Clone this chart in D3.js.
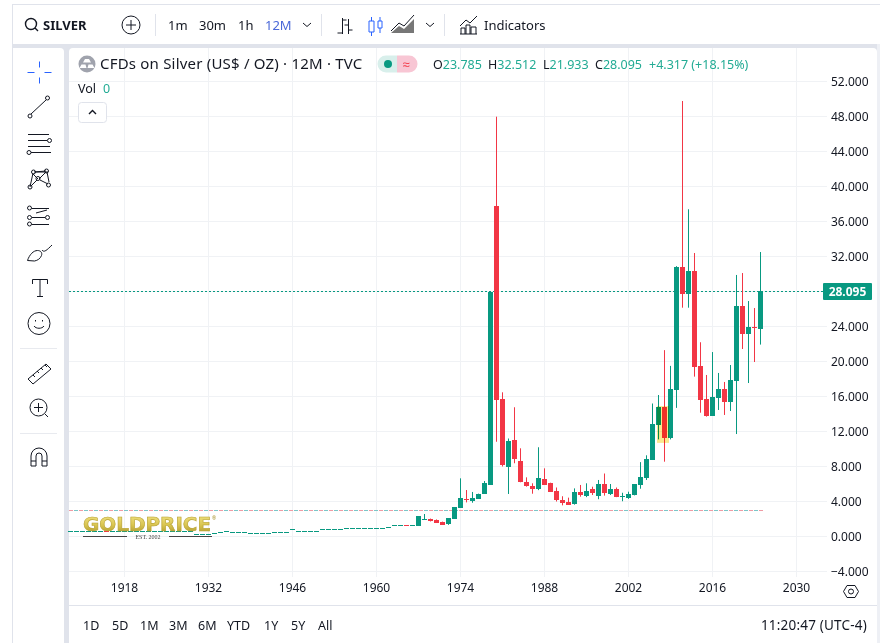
<!DOCTYPE html>
<html>
<head>
<meta charset="utf-8">
<style>
  html, body { margin: 0; padding: 0; background: #fff; overflow: hidden; }
  svg { display: block; }
  text { font-family: "Noto Sans", sans-serif; fill: #131722; }
</style>
<script src="https://cdn.jsdelivr.net/npm/d3@7"></script>
</head>
<body>
<svg id="chart" width="880" height="643"></svg>
<script>
var firstYear = 1909;
var earlyOpens = [.66,.66,.66,.66,.66,.66,.67,.66,.66,.66,.66,.66,.66,.66,.66,.66,.66,.66,.66,.66,.66,.33,.33,.33,.42,.48,.59,.48,.48,.48,.36,.36,.36,.40,.48,.48,.48,.82,.66,.66,.66,.66,.90,.90,.90,.90,.93,.93,.93,.93,.93,.93,.93,1.05,1.28,1.28,1.30,1.28];
var earlyCloses = [.66,.66,.66,.66,.66,.66,.64,.66,.66,.66,.66,.66,.66,.66,.66,.66,.66,.66,.66,.66,.66,.33,.33,.33,.42,.48,.59,.48,.48,.48,.36,.36,.36,.40,.48,.48,.48,.82,.66,.66,.66,.66,.90,.90,.90,.90,.93,.93,.93,.93,.93,.93,.93,1.05,1.28,1.28,1.27,1.28];
var candleOpens = [1.23,2.0,1.97,1.92,1.66,1.35,2.04,3.26,4.29,4.09,4.32,4.86,5.92,37.77,15.68,7.94,11.0,8.63,6.19,5.74,5.35,6.57,6.11,5.2,4.17,3.94,3.64,5.08,4.63,5.43,4.66,6.0,4.86,5.43,4.55,4.44,4.73,5.89,6.69,8.74,12.74,14.8,11.3,16.74,30.8,27.75,30.34,19.5,15.7,13.77,15.83,16.86,15.37,17.77,26.34,23.14,23.94,23.785];
var candleHighs = [2.34,2.57,2.05,1.95,1.70,2.11,3.37,6.65,5.31,5.09,4.9,6.34,27.98,47.98,16.48,11.2,14.77,10.08,6.76,6.08,10.2,7.79,6.15,5.6,4.6,4.44,5.5,5.89,6.08,5.69,6.46,7.2,6.0,5.6,5.0,5.12,6.0,8.5,9.28,15.2,16.17,21.3,19.5,30.9,49.77,37.4,32.4,22.2,18.46,21.08,18.69,17.66,19.6,29.89,30.11,26.91,26.11,32.512];
var candleLows = [1.23,1.97,1.72,1.60,1.33,1.33,2.04,3.26,3.9,3.86,4.3,4.86,5.92,10.83,8.0,4.86,8.37,6.2,5.7,4.89,5.3,5.9,5.1,4.0,3.56,3.6,3.64,4.55,4.5,4.74,4.26,4.67,4.74,4.5,4.03,4.3,4.7,5.46,6.46,8.74,11.1,8.55,11.1,14.7,26.15,26.15,18.27,14.15,13.7,13.77,14.46,13.89,14.34,11.71,21.43,17.54,19.94,21.933];
var candleCloses = [2.34,2.05,1.74,1.63,1.35,2.08,3.37,4.4,4.17,4.44,4.86,6.08,27.98,15.64,8.17,10.91,8.86,6.26,5.77,5.35,6.65,5.92,5.12,4.17,3.8,3.64,5.05,4.7,5.2,4.93,6.0,4.93,5.43,4.55,4.6,4.86,6.0,6.76,8.86,12.86,14.8,11.3,16.85,30.8,27.75,30.34,19.4,15.6,13.77,15.94,16.86,15.37,17.89,26.34,23.14,23.94,23.785,28.095];

var opens = earlyOpens.concat(candleOpens);
var closes = earlyCloses.concat(candleCloses);
var highs = earlyOpens.concat(candleHighs);
var lows = earlyOpens.concat(candleLows);

var priceTicks = [52,48,44,40,36,32,24,20,16,12,8,4,0,-4];
var gridPrices = [52,48,44,40,36,32,28,24,20,16,12,8,4,0,-4];
var yearTicks = [1918,1932,1946,1960,1974,1988,2002,2016,2030];
var rangeLabels = ["1D","5D","1M","3M","6M","YTD","1Y","5Y","All"];
var rangeX = [83,112,140,169,198,227,264,291,318];
var intervals = ["1m","30m","1h","12M"];
var intervalX = [168,199,238,265];
var lastPrice = 28.095;
var avgPrice = 2.97;
var highlightYears = [2007,2008];
var highlightPrices = [14.9,10.7];

var upColor = "#089981", downColor = "#f23645", gray = "#e0e3eb", ink = "#131722", teal = "#22ab94", gridColor = "#f0f2f5";

var svg = d3.select("#chart");
var x = d3.scaleLinear().domain([1918, 2030]).range([124, 796]);
var y = d3.scaleLinear().domain([-4, 52]).range([571.5, 81.5]);

// page frame
svg.append("rect").attr("x", 12).attr("y", 4).attr("width", 868).attr("height", 639).attr("fill", gray);
svg.append("rect").attr("x", 13).attr("y", 5).attr("width", 867).attr("height", 39).attr("fill", "#fff");
svg.append("path").attr("fill", "#fff").attr("d", "M13,48H60a4,4 0 0 1 4,4V643H13Z");
svg.append("path").attr("fill", "#fff").attr("d", "M73,48H873a4,4 0 0 1 4,4V643H69V52a4,4 0 0 1 4,-4Z");
svg.append("rect").attr("x", 877).attr("y", 44).attr("width", 3).attr("height", 599).attr("fill", "#eef0f5");
svg.append("line").attr("x1", 69).attr("x2", 877).attr("y1", 605.5).attr("y2", 605.5).attr("stroke", gray);

// grid
svg.append("g").selectAll("line").data(gridPrices).enter().append("line")
    .attr("x1", 69).attr("x2", 827)
    .attr("y1", function(d) { return y(d); })
    .attr("y2", function(d) { return y(d); })
    .attr("stroke", gridColor);
svg.append("g").selectAll("line").data(yearTicks).enter().append("line")
    .attr("x1", function(d) { return x(d) + .5; })
    .attr("x2", function(d) { return x(d) + .5; })
    .attr("y1", 48).attr("y2", 577)
    .attr("stroke", gridColor);

// average line, pink and teal dashes taking turns
svg.append("line").attr("x1", 69).attr("x2", 763)
    .attr("y1", y(avgPrice)).attr("y2", y(avgPrice))
    .attr("stroke", "#ef9aa3").attr("stroke-dasharray", "4,6");
svg.append("line").attr("x1", 74).attr("x2", 763)
    .attr("y1", y(avgPrice)).attr("y2", y(avgPrice))
    .attr("stroke", "#7cc6c8").attr("stroke-dasharray", "4,6");

// last price line
svg.append("line").attr("x1", 69).attr("x2", 823)
    .attr("y1", Math.round(y(lastPrice)) + .5).attr("y2", Math.round(y(lastPrice)) + .5)
    .attr("stroke", upColor).attr("stroke-dasharray", "2,2");

// candles
var candles = opens.map(function(d, i) {
  return {year: firstYear + i, o: d, h: highs[i], l: lows[i], c: closes[i]};
});
function candleColor(d) { return d.c >= d.o ? upColor : downColor; }
var candle = svg.append("g").selectAll("g").data(candles).enter().append("g");
candle.append("line")
    .attr("x1", function(d) { return Math.round(x(d.year)) + .5; })
    .attr("x2", function(d) { return Math.round(x(d.year)) + .5; })
    .attr("y1", function(d) { return y(d.h); })
    .attr("y2", function(d) { return y(d.l); })
    .attr("stroke", candleColor);
candle.append("rect")
    .attr("x", function(d) { return Math.round(x(d.year)) - 2; })
    .attr("width", 5)
    .attr("y", function(d) { return Math.round(y(Math.max(d.o, d.c))); })
    .attr("height", function(d) { return Math.max(1, Math.round(Math.abs(y(d.o) - y(d.c)))); })
    .attr("fill", candleColor);

// yellow marker over the 2007/2008 candles
svg.append("rect")
    .attr("x", x(highlightYears[0]) - 1)
    .attr("width", x(highlightYears[1]) - x(highlightYears[0]) + 6)
    .attr("y", y(highlightPrices[0]))
    .attr("height", y(highlightPrices[1]) - y(highlightPrices[0]))
    .attr("fill", "#fbe88f")
    .style("mix-blend-mode", "multiply");

// axes
var yAxis = d3.axisRight(y).tickValues(priceTicks).tickSize(0).tickPadding(0)
    .tickFormat(function(d) { return d3.format(".3f")(d).replace("-", "\u2212"); });
var yAxisG = svg.append("g").attr("transform", "translate(831,0)").call(yAxis);
yAxisG.select(".domain").remove();
yAxisG.selectAll("text").style("font-size", "12px").style("font-family", '"Noto Sans", sans-serif').attr("fill", ink);

var xAxis = d3.axisBottom(x).tickValues(yearTicks).tickSize(0).tickPadding(0).tickFormat(d3.format("d"));
var xAxisG = svg.append("g").attr("transform", "translate(0,583)").call(xAxis);
xAxisG.select(".domain").remove();
xAxisG.selectAll("text").style("font-size", "12px").style("font-family", '"Noto Sans", sans-serif').attr("fill", ink);

// last price tag
svg.append("rect").attr("x", 823).attr("y", 283).attr("width", 49).attr("height", 17).attr("rx", 1).attr("fill", upColor);
svg.append("text").attr("x", 847.5).attr("y", 296).attr("text-anchor", "middle")
    .style("fill", "#fff").style("font-size", "12px").style("font-weight", 700)
    .text(d3.format(".3f")(lastPrice));

// legend
svg.append("circle").attr("cx", 87).attr("cy", 64).attr("r", 8.5).attr("fill", "#a0a3ad");
svg.append("path").attr("d", "M83,62.5l2,-3.5h4l2,3.5ZM79.5,68l2,-3.5h4l1,3.5ZM87.5,68l1,-3.5h4l2,3.5Z").attr("fill", "#fff");
svg.append("text").attr("x", 100).attr("y", 69).style("font-size", "15px").style("letter-spacing", ".2px")
    .text("CFDs on Silver (US$ / OZ) \u00b7 12M \u00b7 TVC");
svg.append("path").attr("d", "M386,55.5h11v17h-11a8.5,8.5 0 0 1 0,-17Z").attr("fill", "#d8efeb");
svg.append("path").attr("d", "M397,55.5h12a8.5,8.5 0 0 1 0,17h-12Z").attr("fill", "#f8c6d4");
svg.append("circle").attr("cx", 388).attr("cy", 64).attr("r", 4).attr("fill", upColor);
svg.append("text").attr("x", 406).attr("y", 68.5).attr("text-anchor", "middle").style("fill", downColor).style("font-size", "13px").text("\u2248");

var ohlcLabels = ["O","H","L","C"];
var ohlcValues = [opens[opens.length-1], highs[highs.length-1], lows[lows.length-1], closes[closes.length-1]];
var ohlcX = [433,488,543,595];
svg.append("g").selectAll("text").data(ohlcLabels).enter().append("text")
    .attr("x", function(d, i) { return ohlcX[i]; })
    .attr("y", 69)
    .style("font-size", "12.5px")
    .text(function(d) { return d; })
  .append("tspan")
    .style("fill", teal)
    .text(function(d, i) { return d3.format(".3f")(ohlcValues[i]); });
svg.append("text").attr("x", 649).attr("y", 69).style("font-size", "12.5px").style("fill", teal).text("+4.317 (+18.15%)");

svg.append("text").attr("x", 78).attr("y", 93).style("font-size", "12.5px").text("Vol");
svg.append("text").attr("x", 103).attr("y", 93).style("font-size", "12.5px").style("fill", teal).text("0");
svg.append("rect").attr("x", 78.5).attr("y", 102.5).attr("width", 28).attr("height", 20).attr("rx", 3).attr("fill", "#fff").attr("stroke", gray);
svg.append("path").attr("d", "M89,114l3.5,-3.5l3.5,3.5").attr("fill", "none").attr("stroke", ink).attr("stroke-width", 1.4);

// top toolbar
svg.append("text").attr("x", 43).attr("y", 30).style("font-size", "13px").style("font-weight", 700).text("SILVER");
svg.append("g").selectAll("text").data(intervals).enter().append("text")
    .attr("x", function(d, i) { return intervalX[i]; })
    .attr("y", 30)
    .style("font-size", "13px")
    .style("fill", function(d) { return d === "12M" ? "#4a68d8" : ink; })
    .text(function(d) { return d; });
svg.append("text").attr("x", 484).attr("y", 30).style("font-size", "13px").text("Indicators");

var icon = svg.append("g").attr("fill", "none").attr("stroke", ink).attr("stroke-width", 1);
function draw(d) { return icon.append("path").attr("d", d); }
draw("M36.500,24a5.500,5.500 0 1 1 -11,0a5.500,5.500 0 1 1 11,0ZM35,28l3,3").attr("stroke-width", 1.4);
draw("M140,25a9,9 0 1 1 -18,0a9,9 0 1 1 18,0ZM131,20v10M126,25h10");
draw("M303,23l4,3.5l4,-3.5M426,23l4,3.5l4,-3.5");
svg.append("g").attr("stroke", gray).selectAll("line").data([155,321,444]).enter().append("line")
    .attr("x1", function(d) { return d + .5; }).attr("x2", function(d) { return d + .5; })
    .attr("y1", 14).attr("y2", 36);

// chart type icons
draw("M342.500,18v16M342.500,20h4M342.500,33h-5M348.500,19v15M348.500,25h-4M348.500,30h4");
draw("M369,21h5v11h-5ZM371.500,17v4M371.500,32v4M378,21h4v7h-4ZM380,17v4M380,28v5").attr("stroke", "#2962ff");
svg.append("path").attr("d", "M391,33l8,-7l5,3l10,-10v14H391Z").attr("fill", "#777");
draw("M391,31l8,-8l5,3l10,-11");
draw("M460,26l6,-6l4,3l7,-7M461,34v-6h4v6M466,34v-9h4v9M471,34v-7h5v7M460,34h17");

// left toolbar
var cross = icon.append("g").attr("stroke", "#2962ff").attr("transform", "translate(39.5,72.5)");
cross.append("path").attr("d", "M-12,0h7M5,0h7M0,-11v6M0,5v6");
draw("M31,114l15,-14M32,116a2,2 0 1 1 -4,0a2,2 0 1 1 4,0ZM49.500,98a2,2 0 1 1 -4,0a2,2 0 1 1 4,0Z");
draw("M28,134.500h21M28,140.500h19M28,146.500h22M31,152.500h20M51.500,140.500a2,2 0 1 1 -4,0a2,2 0 1 1 4,0ZM31,152.500a2,2 0 1 1 -4,0a2,2 0 1 1 4,0Z");
draw("M30,187l3,-14M35,172l13,0M34,172l12,-1M33,174l5,5M39,179l7,-7M40,180l8,4M31,186l6,-6M47,172l2,10M35.500,172a2,2 0 1 1 -4,0a2,2 0 1 1 4,0ZM48.500,171a2,2 0 1 1 -4,0a2,2 0 1 1 4,0ZM40,178.500a2,2 0 1 1 -4,0a2,2 0 1 1 4,0ZM32,187a2,2 0 1 1 -4,0a2,2 0 1 1 4,0ZM50.500,185a2,2 0 1 1 -4,0a2,2 0 1 1 4,0Z");
draw("M32,208.500h17M32,224.500h17M32,217.500h13M36,213l11,-3M31.500,208a2,2 0 1 1 -4,0a2,2 0 1 1 4,0ZM31.500,217.500a2,2 0 1 1 -4,0a2,2 0 1 1 4,0ZM49.500,217.500a2,2 0 1 1 -4,0a2,2 0 1 1 4,0ZM31.500,224a2,2 0 1 1 -4,0a2,2 0 1 1 4,0Z");
draw("M27.500,260.500c2,-6 6,-10 10,-10c3,0 5,2 4,5c-1,3 -4,5 -7,5.500ZM42,250c2,3 5,0 10,-5");
draw("M32.500,284v-4.500h15v4.500M40,279.500v17M37,296.500h6");
draw("M50,323.500a11,11 0 1 1 -22,0a11,11 0 1 1 22,0ZM34,326c2,3 8,3 10,0M35.500,320v1.500M42.500,320v1.500");
draw("M28,379l18,-15l5,5l-18,15ZM33,375l2,2M37,371l2,2M41,368l2,2M45,365l2,2");
draw("M47,407.500a8.500,8.500 0 1 1 -17,0a8.500,8.500 0 1 1 17,0ZM38.500,403v9M34,407.500h9M45,414l3,3");
draw("M31,466v-10a8,8 0 0 1 16,0v10h-5v-10a3,3 0 0 0 -6,0v10ZM31,461h5M42,461h5");
svg.append("g").attr("stroke", "#e8eaef").selectAll("line").data([348,433]).enter().append("line")
    .attr("x1", 20).attr("x2", 57)
    .attr("y1", function(d) { return d + .5; }).attr("y2", function(d) { return d + .5; });

// axis settings hexagon
draw("M847,585.500h8l3.500,6l-3.500,6h-8l-3.500,-6ZM853.500,591.500a2.500,2.500 0 1 1 -5,0a2.500,2.500 0 1 1 5,0Z");

// bottom bar
svg.append("g").selectAll("text").data(rangeLabels).enter().append("text")
    .attr("x", function(d, i) { return rangeX[i]; })
    .attr("y", 630)
    .style("font-size", "12.5px")
    .text(function(d) { return d; });
svg.append("text").attr("x", 867).attr("y", 630).attr("text-anchor", "end").style("font-size", "13.5px").style("letter-spacing", ".2px").text("11:20:47 (UTC-4)");

// watermark
var defs = svg.append("defs");
var grad = defs.append("linearGradient").attr("id", "gold").attr("x1", 0).attr("x2", 0).attr("y1", 0).attr("y2", 1);
grad.append("stop").attr("offset", "0%").attr("stop-color", "#f4e68a");
grad.append("stop").attr("offset", "55%").attr("stop-color", "#d9c550");
grad.append("stop").attr("offset", "100%").attr("stop-color", "#a8922a");
svg.append("text").attr("x", 83).attr("y", 531)
    .attr("textLength", 128).attr("lengthAdjust", "spacingAndGlyphs")
    .style("font-family", '"DejaVu Sans", sans-serif').style("font-size", "19px").style("font-weight", 700)
    .style("fill", "url(#gold)").style("stroke", "#b8a233").style("stroke-width", .6)
    .text("GOLDPRICE");
svg.append("text").attr("x", 212).attr("y", 520).style("font-size", "5px").style("fill", "#a8922a").text("\u00ae");
svg.append("path").attr("d", "M83,536.500H127M169,536.500H212").attr("stroke", "#444").attr("fill", "none");
svg.append("text").attr("x", 148).attr("y", 538.500).attr("text-anchor", "middle")
    .style("font-family", '"Liberation Serif", serif').style("font-size", "6px").style("fill", "#444")
    .text("EST. 2002");
</script>
</body>
</html>
